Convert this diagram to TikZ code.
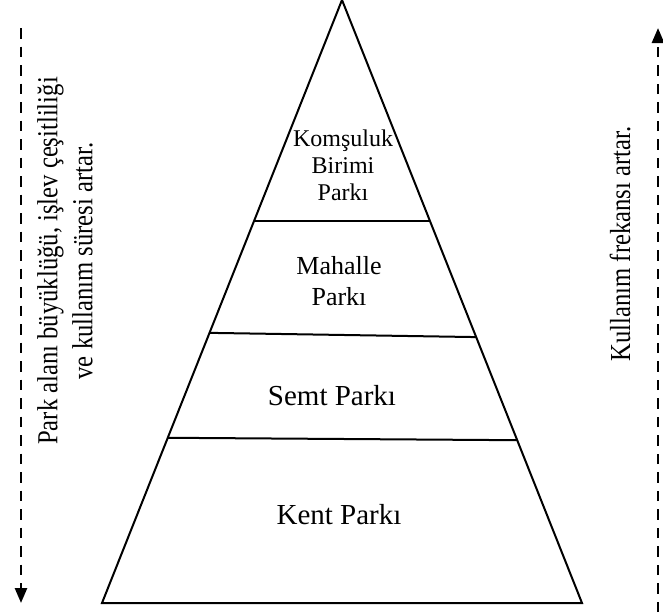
\documentclass[tikz,border=0pt]{standalone}
\usepackage{fontspec}
\setmainfont{Liberation Serif}
\newfontfamily\sidefont[FakeStretch=0.85]{Liberation Serif}
\usepackage{tikz}
\usetikzlibrary{calc,arrows.meta}

\begin{document}
\begin{tikzpicture}[x=1pt, y=-1pt,
        edgeline/.style={line width=2pt},
        sidearrow/.style={line width=2.6pt, dash pattern=on 10.5pt off 8pt, -{Triangle[width=12pt,length=15pt]}},
        sidetext/.style={rotate=90, font=\sidefont\fontsize{29}{35}\selectfont, align=center}]
        \useasboundingbox (0,0) rectangle (663,613);
        % Pyramid corners
        \coordinate (apex) at (342,0);
        \coordinate (bl) at (102,603);
        \coordinate (br) at (582,603);
        % Layer borders
        \coordinate (m1l) at ($(apex)!.3665!(bl)$);
        \coordinate (m1r) at ($(apex)!.3665!(br)$);
        \coordinate (m2l) at ($(apex)!.552!(bl)$);
        \coordinate (m2r) at ($(apex)!.559!(br)$);
        \coordinate (m3l) at ($(apex)!.726!(bl)$);
        \coordinate (m3r) at ($(apex)!.730!(br)$);
        \draw[edgeline, line join=miter] (apex) -- (bl) -- (br) -- cycle;
        \draw[edgeline] (m1l) -- (m1r);
        \draw[edgeline] (m2l) -- (m2r);
        \draw[edgeline] (m3l) -- (m3r);
        % Nodes
        \node[align=center, font=\fontsize{24}{27}\selectfont] (komsu) at (343,165) {Komşuluk\\Birimi\\Parkı};
        \node[align=center, font=\fontsize{26}{31}\selectfont] (mahalle) at (339,281) {Mahalle\\Parkı};
        \node[font=\fontsize{29}{35}\selectfont] (semt) at (332,396) {Semt Parkı};
        \node[font=\fontsize{29}{35}\selectfont] (kent) at (339,515) {Kent Parkı};
        \node[sidetext] (buyukluk) at (65,261) {Park alanı büyüklüğü, işlev çeşitliliği\\ve kullanım süresi artar.};
        \node[sidetext] (frekans) at (620,244) {Kullanım frekansı artar.};
        % Side arrows
        \coordinate (lt) at (21,28);
        \coordinate (lb) at (21,603);
        \coordinate (rb) at (658,612);
        \coordinate (rt) at (658,28);
        \draw[sidearrow] (lt) -- (lb);
        \draw[sidearrow] (rb) -- (rt);
    \end{tikzpicture}
\end{document}
